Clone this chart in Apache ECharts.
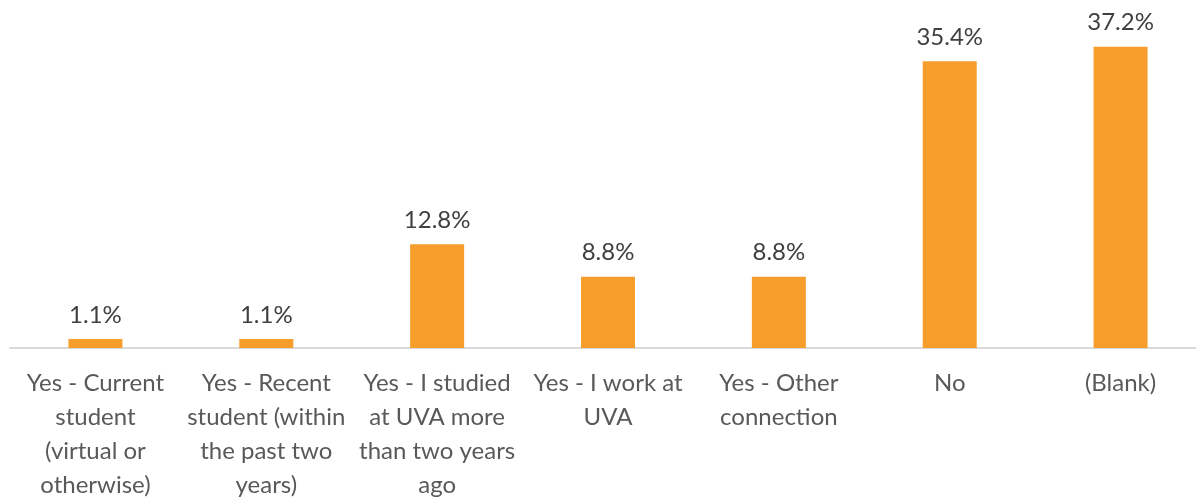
<!DOCTYPE html>
<html>
<head>
<meta charset="utf-8">
<script src="https://cdn.jsdelivr.net/npm/echarts@6/dist/echarts.min.js"></script>
<style>
  html, body { margin: 0; padding: 0; background: #ffffff; overflow: hidden; }
  #chart { width: 1206px; height: 502px; }
</style>
</head>
<body>
<div id="chart"></div>
<script>
// Survey responses: connection to UVA
const categories = [
  'Yes - Current\nstudent\n(virtual or\notherwise)',
  'Yes - Recent\nstudent (within\nthe past two\nyears)',
  'Yes - I studied\nat UVA more\nthan two years\nago',
  'Yes - I work at\nUVA',
  'Yes - Other\nconnection',
  'No',
  '(Blank)'
];
const shares = [1.1, 1.1, 12.8, 8.8, 8.8, 35.4, 37.2];

const fontFamily = 'Lato, "Source Sans Pro", "Noto Sans", sans-serif';

const chart = echarts.init(document.getElementById('chart'), null, { renderer: 'canvas' });
chart.setOption({
  animation: false,
  grid: { left: 10, right: 0, top: 24, height: 326, containLabel: false },
  xAxis: {
    type: 'category',
    data: categories,
    axisLine: { show: true, lineStyle: { color: '#d9d9d9', width: 2 } },
    axisTick: { show: false },
    axisLabel: {
      interval: 0,
      margin: 18,
      color: '#595959',
      fontFamily: fontFamily,
      fontSize: 24,
      lineHeight: 34
    }
  },
  yAxis: {
    type: 'value',
    min: 0,
    max: 40,
    show: false,
    splitLine: { show: false }
  },
  series: [{
    type: 'bar',
    data: shares,
    barWidth: 54,
    itemStyle: { color: '#F79D2C' },
    label: {
      show: true,
      position: 'top',
      distance: 12,
      color: '#404040',
      fontFamily: fontFamily,
      fontSize: 24,
      formatter: p => p.value.toFixed(1) + '%'
    }
  }]
});
</script>
</body>
</html>
